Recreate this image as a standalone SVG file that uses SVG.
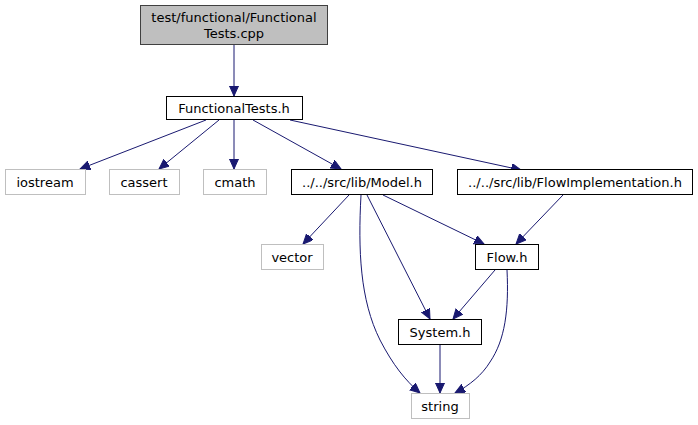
<svg xmlns="http://www.w3.org/2000/svg" width="698" height="425" viewBox="0 0 698 425">
<style>
text{font-family:"DejaVu Sans",sans-serif;font-size:13px;fill:#000;text-anchor:middle}
.n rect{fill:#fff;stroke:#000;stroke-width:1}
.g rect{fill:#fff;stroke:#bfbfbf;stroke-width:1}
.e path{fill:none;stroke:#191970;stroke-width:1}
</style>
<defs>
<marker id="a" markerUnits="userSpaceOnUse" markerWidth="12" markerHeight="10" refX="10" refY="4.5" orient="auto">
<path d="M0,0 L10,4.5 L0,9 Z" fill="#191970" stroke="#191970"/>
</marker>
</defs>
<rect width="698" height="425" fill="#fff"/>
<g id="connectors" class="e">
<path d="M234,45 V96" marker-end="url(#a)"/>
<path d="M206,120 L80,169" marker-end="url(#a)"/>
<path d="M219,120 L159,169" marker-end="url(#a)"/>
<path d="M234,120 V169" marker-end="url(#a)"/>
<path d="M253,120 L341,169" marker-end="url(#a)"/>
<path d="M290,120 L521,170" marker-end="url(#a)"/>
<path d="M349,195 L303,244" marker-end="url(#a)"/>
<path d="M361,195 C358,250 360,300 380,340 C393,365 405,380 420,393" marker-end="url(#a)"/>
<path d="M367,195 L430,319" marker-end="url(#a)"/>
<path d="M383,195 L484,244" marker-end="url(#a)"/>
<path d="M563,195 L516,244" marker-end="url(#a)"/>
<path d="M495,270 L453,319" marker-end="url(#a)"/>
<path d="M507,270 C509,310 505,340 490,362 C482,375 470,385 455,393" marker-end="url(#a)"/>
<path d="M440,345 V393" marker-end="url(#a)"/>
</g>
<g id="root" class="n"><rect x="140.5" y="5.5" width="187" height="39" style="fill:#bfbfbf;stroke:#404040"/><text x="234" y="22">test/functional/Functional</text><text x="234" y="38">Tests.cpp</text></g>
<g id="functionaltests_h" class="n"><rect x="166.5" y="96.5" width="136" height="23"/><text x="234" y="112.5">FunctionalTests.h</text></g>
<g id="iostream" class="g"><rect x="5.5" y="169.5" width="80" height="25"/><text x="45" y="186.5">iostream</text></g>
<g id="cassert" class="g"><rect x="109.5" y="169.5" width="70" height="25"/><text x="144" y="186.5">cassert</text></g>
<g id="cmath" class="g"><rect x="203.5" y="169.5" width="63" height="25"/><text x="235" y="186.5">cmath</text></g>
<g id="model_h" class="n"><rect x="291.5" y="169.5" width="141" height="25"/><text x="362" y="186.5">../../src/lib/Model.h</text></g>
<g id="flowimplementation_h" class="n"><rect x="457.5" y="169.5" width="235" height="25"/><text x="575" y="186.5">../../src/lib/FlowImplementation.h</text></g>
<g id="vector" class="g"><rect x="261.5" y="244.5" width="62" height="25"/><text x="292" y="261.5">vector</text></g>
<g id="flow_h" class="n"><rect x="475.5" y="244.5" width="63" height="25"/><text x="507" y="261.5">Flow.h</text></g>
<g id="system_h" class="n"><rect x="398.5" y="319.5" width="83" height="25"/><text x="440" y="336.5">System.h</text></g>
<g id="string" class="g"><rect x="411.5" y="393.5" width="58" height="25"/><text x="440" y="410.5">string</text></g>
</svg>
